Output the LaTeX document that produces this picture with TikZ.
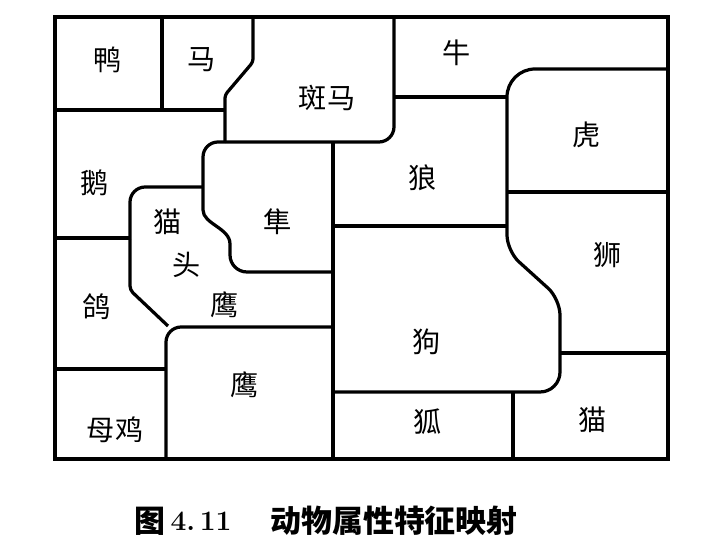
\documentclass[tikz,border=0pt]{standalone}
\usepackage{fontspec}
\usepackage{tikz}
\newfontfamily\cjk{Noto Sans CJK SC}

\begin{document}
\begin{tikzpicture}[x=0.025cm, y=-0.025cm, line width=2.3pt,
    lab/.style={font=\cjk\fontsize{20}{20}\selectfont, inner sep=0pt},
    captext/.style={font=\cjk\bfseries\fontsize{22}{22}\selectfont, inner sep=0pt}]

    \useasboundingbox (0,0) rectangle (712,538);
    \draw (55,17) rectangle (668,459);
    \draw (162,17) -- (162,110);
    \draw (55,110) -- (225,110);
    \draw[rounded corners=0.08cm] (253,17) -- (253,62) -- (225,95) -- (225,142);
    \draw[rounded corners=0.38cm] (225,142) -- (394,142) -- (394,17);
    \draw (225,142) -- (218,142) to[out=180,in=90] (203,157) -- (203,210)
        .. controls (203,224) and (230,228) .. (230,244) -- (230,255) to[out=-90,in=180] (247,272) -- (333,272);
    \draw (333,142) -- (333,459);
    \draw[rounded corners=0.38cm] (203,187) -- (130,187) -- (130,240);
    \draw[rounded corners=0.1cm] (130,240) -- (130,290) -- (168,326);
    \draw (55,238) -- (130,238);
    \draw (55,369) -- (166,369);
    \draw[rounded corners=0.38cm] (166,459) -- (166,327) -- (333,327);
    \draw (394,97) -- (507,97);
    \draw (668,69) [rounded corners=0.7cm] -- (507,69) [rounded corners=0.4cm] -- (507,251) -- (560,299)
        [rounded corners=0.5cm] -- (560,392) -- (333,392);
    \draw (507,192) -- (668,192);
    \draw (333,226) -- (507,226);
    \draw (560,353) -- (668,353);
    \draw (513,392) -- (513,459);

    \node[lab] (duck) at (108,60) {鸭};
    \node[lab] (horse) at (202,60) {马};
    \node[lab] (zebra) at (327,98) {斑马};
    \node[lab] (cow) at (457,53) {牛};
    \node[lab] (tiger) at (587,135) {虎};
    \node[lab] (wolf) at (423,178) {狼};
    \node[lab] (goose) at (95,183) {鹅};
    \node[lab] (owla) at (168,222) {猫};
    \node[lab] (falcon) at (278,222) {隼};
    \node[lab] (owlb) at (187,265) {头};
    \node[lab] (owlc) at (225,305) {鹰};
    \node[lab] (dove) at (97,307) {鸽};
    \node[lab] (eagle) at (245,385) {鹰};
    \node[lab] (hen) at (115,430) {母鸡};
    \node[lab] (lion) at (608,255) {狮};
    \node[lab] (dog) at (427,342) {狗};
    \node[lab] (fox) at (428,422) {狐};
    \node[lab] (cat) at (593,420) {猫};

    \node[captext] (fig) at (150,521) {图};
    \node[inner sep=0pt, font=\bfseries\fontsize{20}{20}\selectfont] (num) at (201,521) {4.\,11};
    \node[captext] (title) at (394,521) {动物属性特征映射};

\end{tikzpicture}
\end{document}
